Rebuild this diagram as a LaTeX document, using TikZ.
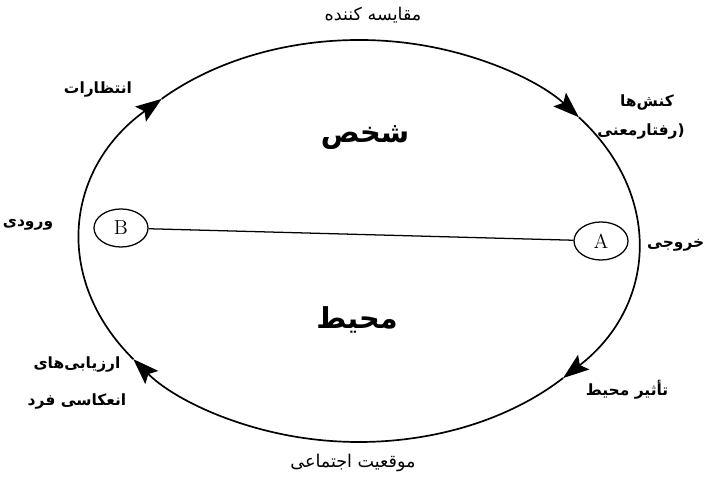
\documentclass[tikz,border=0pt]{standalone}
\usepackage{fontspec}
\usepackage{tikz}
\usetikzlibrary{arrows.meta,shapes.geometric}
\newfontfamily\fa[Script=Arabic]{DejaVu Sans}
\TeXXeTstate=1

\begin{document}
\begin{tikzpicture}[
  x=0.025cm, y=0.025cm,
  lbl/.style={font=\fa\bfseries\fontsize{11}{13}\selectfont, inner sep=1pt},
  lbl2/.style={font=\fa\fontsize{12.5}{14}\selectfont, inner sep=1pt},
  big/.style={font=\fa\bfseries\fontsize{20.5}{24}\selectfont, inner sep=1pt},
  pt/.style={draw, ellipse, line width=0.9pt, minimum width=1.35cm, minimum height=0.95cm, inner sep=0pt, font=\Large},
  ring/.style={line width=1.2pt, -{Stealth[length=6.5mm,width=4.6mm,inset=1.2mm]}},
  link/.style={line width=0.9pt}
]
\useasboundingbox (0,0) rectangle (708,477);
\coordinate (ctr) at (359,236);
\draw[ring] (ctr) ++(216:279 and 201) arc[start angle=216, end angle=135, x radius=279, y radius=201];
\draw[ring] (ctr) ++(135:279 and 201) arc[start angle=135, end angle=38, x radius=279, y radius=201];
\draw[ring] (ctr) ++(38:279 and 201) arc[start angle=38, end angle=-43, x radius=279, y radius=201];
\draw[ring] (ctr) ++(-43:279 and 201) arc[start angle=-43, end angle=-144, x radius=279, y radius=201];
\node[pt] (B) at (121,249) {B};
\node[pt] (A) at (601,236) {A};
\draw[link] (B) -- (A);
\node[big] (person) at (365,339) {\beginR شخص\endR};
\node[big] (env) at (357,157) {\beginR محیط\endR};
\node[lbl2] (cmp) at (373,462) {\beginR مقایسه کننده\endR};
\node[lbl] (exp) at (98,387) {\beginR انتظارات\endR};
\node[lbl] (act) at (647,374) {\beginR کنش‌ها\endR};
\node[lbl] (act2) at (641,345) {\beginR (رفتارمعنی\endR};
\node[lbl] (in) at (28,252) {\beginR ورودی\endR};
\node[lbl, anchor=east] (out) at (706,232) {\beginR خروجی\endR};
\node[lbl] (ev1) at (77,112) {\beginR ارزیابی‌های\endR};
\node[lbl] (ev2) at (77,75) {\beginR انعکاسی فرد\endR};
\node[lbl] (eff) at (627,87) {\beginR تأثیر محیط\endR};
\node[lbl2] (soc) at (353,14) {\beginR موقعیت اجتماعی\endR};
\end{tikzpicture}
\end{document}
